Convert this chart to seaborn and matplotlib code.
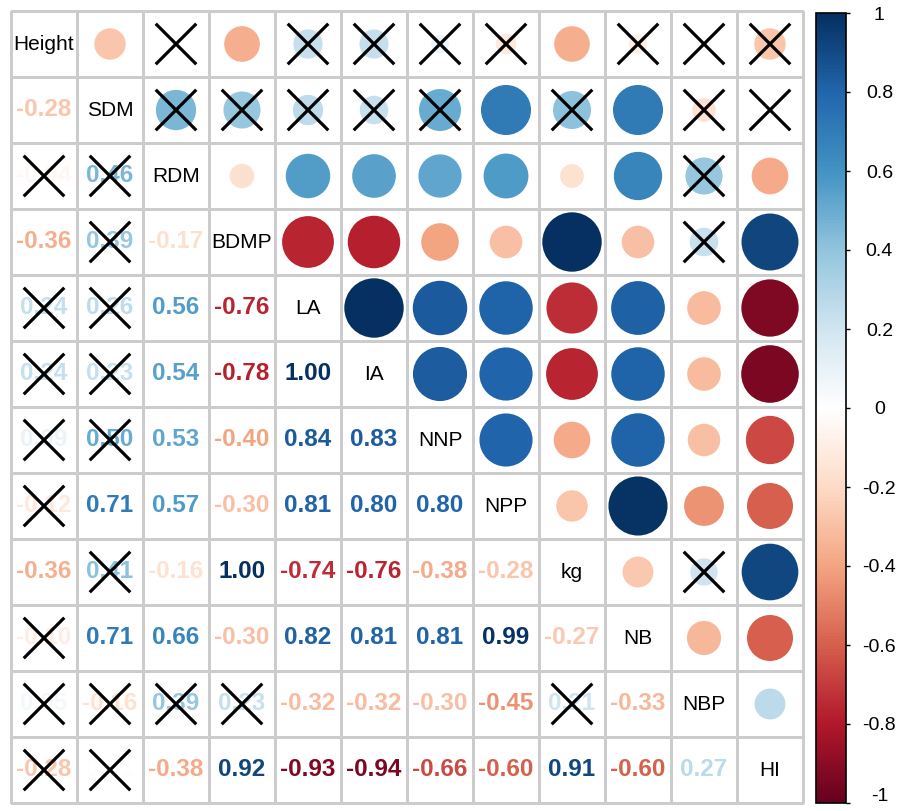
import numpy as np
import pandas as pd
import matplotlib
matplotlib.use("Agg")
import matplotlib.pyplot as plt
import seaborn as sns
from matplotlib.colors import LinearSegmentedColormap, ListedColormap, Normalize
from matplotlib.patches import Circle
from matplotlib.cm import ScalarMappable
from matplotlib.transforms import ScaledTranslation

# Variables (ordre de la matrice)
variables = ["Height", "SDM", "RDM", "BDMP", "LA", "IA", "NNP", "NPP", "kg", "NB", "NBP", "HI"]

# Triangle inférieur des corrélations, ligne par ligne
r_sdm = [-0.28]
r_rdm = [-0.04, 0.46]
r_bdmp = [-0.36, 0.39, -0.17]
r_la = [0.24, 0.26, 0.56, -0.76]
r_ia = [0.24, 0.23, 0.54, -0.78, 1.00]
r_nnp = [0.09, 0.50, 0.53, -0.40, 0.84, 0.83]
r_npp = [-0.12, 0.71, 0.57, -0.30, 0.81, 0.80, 0.80]
r_kg = [-0.36, 0.41, -0.16, 1.00, -0.74, -0.76, -0.38, -0.28]
r_nb = [-0.10, 0.71, 0.66, -0.30, 0.82, 0.81, 0.81, 0.99, -0.27]
r_nbp = [0.05, -0.16, 0.39, 0.23, -0.32, -0.32, -0.30, -0.45, 0.21, -0.33]
r_hi = [-0.28, 0.01, -0.38, 0.92, -0.93, -0.94, -0.66, -0.60, 0.91, -0.60, 0.27]
lower_rows = [r_sdm, r_rdm, r_bdmp, r_la, r_ia, r_nnp, r_npp, r_kg, r_nb, r_nbp, r_hi]

# Paires non significatives (croix)
insig_pairs = [("RDM", "Height"), ("RDM", "SDM"), ("BDMP", "SDM"), ("LA", "Height"),
               ("LA", "SDM"), ("IA", "Height"), ("IA", "SDM"), ("NNP", "Height"),
               ("NNP", "SDM"), ("NPP", "Height"), ("kg", "SDM"), ("NB", "Height"),
               ("NBP", "Height"), ("NBP", "SDM"), ("NBP", "RDM"), ("NBP", "BDMP"),
               ("NBP", "kg"), ("HI", "Height"), ("HI", "SDM")]

cbar_ticks = [-1, -0.8, -0.6, -0.4, -0.2, 0, 0.2, 0.4, 0.6, 0.8, 1]

# Matrice complète symétrique
n = len(variables)
corr = np.eye(n)
for i, row in enumerate(lower_rows, start=1):
    for j, v in enumerate(row):
        corr[i, j] = v
        corr[j, i] = v
corr_df = pd.DataFrame(corr, index=variables, columns=variables)

# Palette RdBu de corrplot
cmap = LinearSegmentedColormap.from_list("rdbu", ["#67001F", "#B2182B", "#D6604D", "#F4A582", "#FDDBC7",
                                                  "#FFFFFF", "#D1E5F0", "#92C5DE", "#4393C3", "#2166AC",
                                                  "#053061"])
norm = Normalize(-1, 1)

# Textes : nombres en bas, noms sur la diagonale, rien en haut
labels = np.full((n, n), "", dtype=object)
for i in range(n):
    for j in range(n):
        if i == j:
            labels[i, j] = variables[i]
        elif j < i:
            labels[i, j] = f"{corr[i, j]:.2f}"

plt.rcParams["font.family"] = ["Liberation Sans", "DejaVu Sans"]
fig = plt.figure(figsize=(9, 8.11), dpi=100)
ax = fig.add_axes([11 / 900, 1 - 803 / 811, 792 / 900, 792 / 811])
cax = fig.add_axes([816 / 900, 1 - 803 / 811, 30 / 900, 790 / 811])

sns.heatmap(corr_df, ax=ax, cmap=ListedColormap(["white"]), annot=labels, fmt="",
            cbar=False, linewidths=0.8, linecolor="#cccccc")
ax.collections[0].set_clip_on(False)
ax.set_xticks([])
ax.set_yticks([])
ax.set_xlabel("")
ax.set_ylabel("")

# Style des textes
for k, t in enumerate(ax.texts):
    i, j = divmod(k, n)
    if i == j:
        t.set_color("black")
        t.set_fontsize(15)
        t.set_fontweight("normal")
    elif j < i:
        t.set_color(cmap(norm(corr[i, j])))
        t.set_fontsize(17.5)
        t.set_fontweight("bold")

# Cercles dans le triangle supérieur
for i in range(n):
    for j in range(i + 1, n):
        r = 0.9 * np.sqrt(abs(corr[i, j])) / 2
        ax.add_patch(Circle((j + 0.5, i + 0.5), r, facecolor=cmap(norm(corr[i, j])),
                            edgecolor="none", zorder=2))

# Croix pour les non significatifs (des deux côtés)
h = 0.29
for a, b in insig_pairs:
    i, j = variables.index(a), variables.index(b)
    for (ri, cj) in [(i, j), (j, i)]:
        x, y = cj + 0.5, ri + 0.5
        ax.plot([x - h, x + h], [y - h, y + h], color="black", lw=2.3, zorder=5)
        ax.plot([x - h, x + h], [y + h, y - h], color="black", lw=2.3, zorder=5)

# Barre de couleur
cb = fig.colorbar(ScalarMappable(norm=norm, cmap=cmap), cax=cax, ticks=cbar_ticks)
cb.outline.set_linewidth(1.2)
cb.outline.set_edgecolor("black")
cax.tick_params(length=3, width=1, pad=21, labelsize=14)
cax.set_yticklabels([f"{t:g}" for t in cbar_ticks])
for t in cax.get_yticklabels():
    t.set_ha("center")
# remonter un peu le "-1" du bas pour qu'il reste visible
low = cax.get_yticklabels()[0]
low.set_transform(low.get_transform() + ScaledTranslation(0, 6 / 72, fig.dpi_scale_trans))

fig.savefig("out.png", dpi=100)
